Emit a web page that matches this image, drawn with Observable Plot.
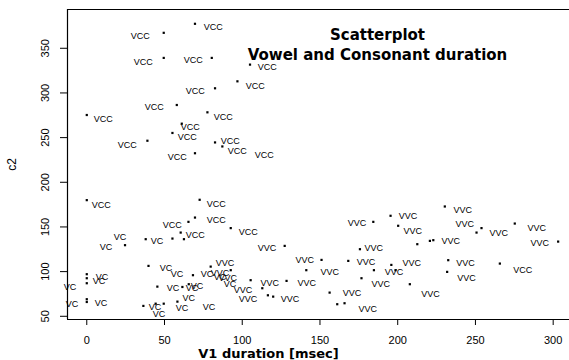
<!DOCTYPE html>
<html><head><meta charset="utf-8">
<script src="https://cdn.jsdelivr.net/npm/d3@7"></script>
<script src="https://cdn.jsdelivr.net/npm/@observablehq/plot@0.6"></script>
<style>body{margin:0;background:#fff} #chart{width:569px;height:360px}</style>
</head><body><div id="chart"></div>
<script>
// Data points: [V1 duration (msec), c2]
const points = [
  [69.6,377.4],[49.5,367.3],[49.5,339.2],[80.4,339.2],[105,331.7],[82.5,305.2],[96.9,313],[57.9,286.5],[0,275.3],[77.6,278.3],
  [55.1,255.2],[61.1,265.6],[39,246.5],[82.5,244.6],[87.2,240.1],[69.6,232.5],
  [0,180],[65.4,155.7],[60.4,143.7],[69.6,160.5],[24.6,129.6],[37.9,136.3],[55.1,137],[62.5,136.3],[39.7,106.4],[68.3,96],
  [0,97.1],[0,92.6],[0,87],[0,69.1],[0,66],[45.4,83.2],[61.5,82.8],[65.6,85.9],[36.4,61.6],[44.3,64.1],[49.5,64.1],[58.3,66.4],
  [72.6,180.4],[92.6,148.7],[127.3,128.8],[151,113.1],[184.3,155.7],[175.7,125.1],[168.2,112],[141.2,101.6],[176.7,92.6],
  [79.7,105.6],[92.6,101.6],[105.4,90.4],[128.5,89.6],[112.9,81.4],[116.5,73.5],[119.9,72],[156.2,76.5],[161.1,63.5],[165.8,64.6],
  [230.3,172.9],[195.4,162.5],[200.3,151.3],[250.7,143.7],[253.9,148.7],[275.3,153.8],[303.2,133.6],[220.7,134.4],[222.9,135.2],
  [212.6,130.7],[232.5,112.8],[265.7,109],[195.9,107.5],[184.7,101.6],[198.6,101.6],[231.8,99.7],[207.8,85.9]
];
// Label positions (start of text) by syllable type
const vccLabels = [
  [75.2,373.2],[28.3,363.1],[30.2,334],[62.4,337.3],[109.9,328.7],[63.6,302.6],[102.2,308.2],[37.3,283.9],[4.5,270.9],[81.6,272.6],
  [60.4,262.2],[58.5,251],[19.9,242],[86.1,246.5],[90.6,235.3],[52.1,228.6],[108,230.3],[3.2,174],[48.9,152.4],[63.6,141.1],
  [77.1,175.6],[77.1,157.6],[97.7,143.7],[274.3,101.9]
];
const vcLabels = [
  [17.4,138.9],[8.4,126.9],[41.1,133.6],[46.9,103.8],[54,97.1],[5.8,94.1],[3.9,89.6],[-14.8,82.9],[-13.5,63.5],[5.1,64.9],
  [51.4,81.4],[63.6,81.7],[66.9,84.2],[39.8,60.4],[42.4,52.6],[61.5,70],[57.2,59.6],[74.6,60.4],[73.3,97.4],[81.6,94],[88.1,86.2]
];
const vvcLabels = [
  [109.9,126.2],[134.3,113.1],[167.8,153.8],[178.7,125.8],[173.6,110.1],[150.4,98.9],[183.2,86.2],[82.9,109],[79.7,98.5],[84.8,92.8],
  [111.8,87],[135.6,87],[94.6,79.2],[97.7,69.1],[124.7,69.7],[164.6,76.5],[174.8,58.5],[235.9,169.2],[200.6,162.5],[203.8,145.7],
  [237.2,153.1],[259,142.6],[283.5,148.7],[285.4,131.4],[228.2,133.6],[237.6,109.4],[203.1,109.4],[191.6,98.9],[238.3,92.2],[215.1,75.3]
];
const xTicks = [0,50,100,150,200,250,300];
const yTicks = [50,100,150,200,250,300,350];
const xDomain = [-12.4, 310.5];
const yDomain = [46.4, 393.4];
const titleLines = ["Scatterplot", "Vowel and Consonant duration"];
const xTitle = "V1 duration [msec]";
const yTitle = "c2";

const labels = [
  ...vccLabels.map(([x,y]) => ({x, y, t: "VCC"})),
  ...vcLabels.map(([x,y]) => ({x, y, t: "VC"})),
  ...vvcLabels.map(([x,y]) => ({x, y, t: "VVC"}))
];
const boldFont = "'DejaVu Sans', Arial, sans-serif";

const chart = Plot.plot({
  width: 569, height: 360,
  marginLeft: 67, marginRight: 0, marginTop: 9, marginBottom: 41,
  style: {fontFamily: "'Liberation Sans', Arial, sans-serif", background: "#fff", color: "#000", fontSize: "11px"},
  x: {domain: xDomain},
  y: {domain: yDomain},
  marks: [
    Plot.ruleX([xDomain[0]], {stroke: "#000", strokeWidth: 1.2}),
    Plot.ruleY([yDomain[0], yDomain[1]], {stroke: "#000", strokeWidth: 1.2}),
    Plot.axisX(xTicks, {tickSize: 6, tickPadding: 11, label: null, fontSize: 11}),
    Plot.axisY(yTicks, {tickSize: 7, tickFormat: () => "", label: null}),
    Plot.text(yTicks, {y: d => d, text: d => String(d), frameAnchor: "left", textAnchor: "middle", lineAnchor: "middle", dx: -22, rotate: -90, fontSize: 11}),
    Plot.dot(points, {x: d => d[0], y: d => d[1], r: 1.25, fill: "#000", symbol: "square"}),
    Plot.text(labels, {x: "x", y: "y", text: "t", textAnchor: "start", lineAnchor: "middle", fontSize: 9, fill: "#000"}),
    Plot.text([yTitle], {text: d => d, frameAnchor: "left", textAnchor: "middle", lineAnchor: "middle", dx: -55, rotate: -90, fontSize: 12}),
    Plot.text([xTitle], {text: d => d, frameAnchor: "bottom", textAnchor: "middle", lineAnchor: "middle", dx: -50, dy: 34, fontSize: 13, fontWeight: "bold", fontFamily: boldFont}),
    Plot.text([titleLines[0]], {text: d => d, frameAnchor: "top", textAnchor: "middle", lineAnchor: "middle", dx: 59, dy: 26, fontSize: 15, fontWeight: "bold", fontFamily: boldFont}),
    Plot.text([titleLines[1]], {text: d => d, frameAnchor: "top", textAnchor: "middle", lineAnchor: "middle", dx: 59, dy: 46, fontSize: 15, fontWeight: "bold", fontFamily: boldFont})
  ]
});
document.getElementById("chart").appendChild(chart);
</script>
</body></html>
